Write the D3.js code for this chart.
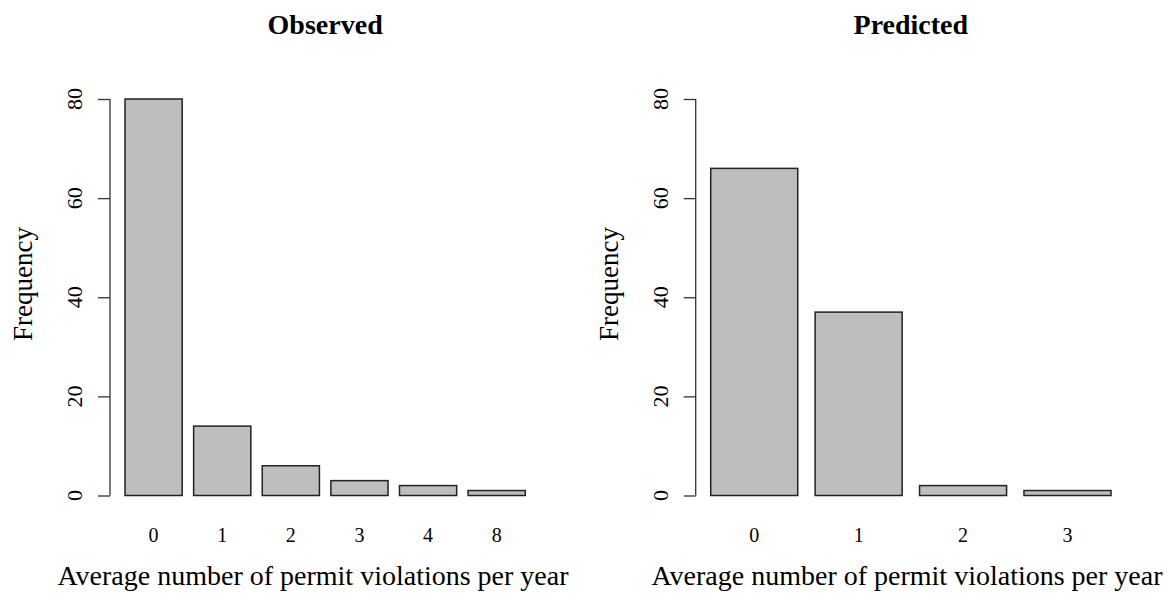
<!DOCTYPE html>
<html>
<head>
<meta charset="utf-8">
<script src="https://cdn.jsdelivr.net/npm/d3@7"></script>
<style>
  html, body { margin: 0; padding: 0; background: #fff; }
  svg { display: block; }
  text { font-family: "Liberation Serif", "Times New Roman", serif; fill: #000; }
</style>
</head>
<body>
<script>
// ---- data ----
const observedCategories = ["0", "1", "2", "3", "4", "8"];
const observedValues = [80, 14, 6, 3, 2, 1];
const predictedCategories = ["0", "1", "2", "3"];
const predictedValues = [66, 37, 2, 1];
const yTicks = [0, 20, 40, 60, 80];
const panelTitles = ["Observed", "Predicted"];
const xAxisLabel = "Average number of permit violations per year";
const yAxisLabel = "Frequency";

const W = 1175, H = 598;
const svg = d3.select("body").append("svg").attr("width", W).attr("height", H);

const panels = [
  { title: panelTitles[0], cats: observedCategories, vals: observedValues,
    left: 109, right: 541.3, xLabelCenter: 313, yTickX: 82, yLabX: 32 },
  { title: panelTitles[1], cats: predictedCategories, vals: predictedValues,
    left: 694.7, right: 1127, xLabelCenter: 907, yTickX: 668, yLabX: 618 }
];

const y = d3.scaleLinear().domain([0, 80]).range([495.5, 99]);

panels.forEach(p => {
  const n = p.cats.length;
  const space = 0.2;
  const total = n * (1 + space) - space;          // R barplot span
  const gap = 0.04 * total;                        // 4% axis extension
  const x = d3.scaleBand()
    .domain(p.cats)
    .range([p.left, p.right])
    .paddingInner(space / (1 + space))
    .paddingOuter(gap / (1 + space))
    .align(0.5);

  const g = svg.append("g");

  // bars
  g.selectAll("rect.bar")
    .data(p.vals)
    .enter().append("rect")
    .attr("class", "bar")
    .attr("x", (d, i) => x(p.cats[i]))
    .attr("width", x.bandwidth())
    .attr("y", d => y(d))
    .attr("height", d => y(0) - y(d))
    .attr("fill", "#bebebe")
    .attr("stroke", "#222")
    .attr("stroke-width", 1.5);

  // y axis
  const yAxis = d3.axisLeft(y).tickValues(yTicks).tickSize(12).tickPadding(0).tickFormat(d3.format("d"));
  const ax = g.append("g")
    .attr("transform", `translate(${p.left + 1},0)`)
    .call(yAxis);
  ax.select(".domain").attr("stroke", "#333").attr("stroke-width", 1.3)
    .attr("d", `M0,${y(0)}V${y(80)}`);
  ax.selectAll(".tick line").attr("stroke", "#333").attr("stroke-width", 1.3);
  ax.selectAll(".tick text").remove();

  // rotated y tick labels
  g.selectAll("text.ytick")
    .data(yTicks)
    .enter().append("text")
    .attr("class", "ytick")
    .attr("transform", d => `translate(${p.yTickX},${y(d)}) rotate(-90)`)
    .attr("text-anchor", "middle")
    .style("font-size", "22px")
    .text(d => d);

  // x category labels
  g.selectAll("text.xtick")
    .data(p.cats)
    .enter().append("text")
    .attr("class", "xtick")
    .attr("x", d => x(d) + x.bandwidth() / 2)
    .attr("y", 542)
    .attr("text-anchor", "middle")
    .style("font-size", "20px")
    .text(d => d);

  // title
  g.append("text")
    .attr("x", (p.left + p.right) / 2)
    .attr("y", 34)
    .attr("text-anchor", "middle")
    .style("font-size", "28px")
    .style("font-weight", "bold")
    .text(p.title);

  // x axis label
  g.append("text")
    .attr("x", p.xLabelCenter)
    .attr("y", 585)
    .attr("text-anchor", "middle")
    .style("font-size", "28px")
    .text(xAxisLabel);

  // y axis label
  g.append("text")
    .attr("transform", `translate(${p.yLabX},284) rotate(-90)`)
    .attr("text-anchor", "middle")
    .style("font-size", "27px")
    .text(yAxisLabel);
});
</script>
</body>
</html>
